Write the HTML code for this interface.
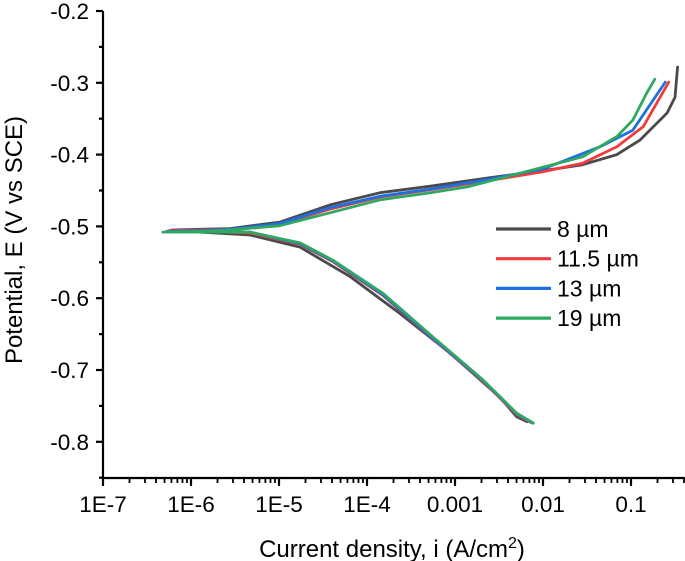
<!DOCTYPE html>
<html><head><meta charset="utf-8"><style>
body{margin:0;background:#fff}
svg{display:block;font-family:"Liberation Sans",Arial,sans-serif}
</style></head><body>
<svg id="chart" width="685" height="561"></svg>
<script>
const xTickLabels=["1E-7","1E-6","1E-5","1E-4","0.001","0.01","0.1"];
const xTickLogs=[-7,-6,-5,-4,-3,-2,-1];
const yTicks=[-0.2,-0.3,-0.4,-0.5,-0.6,-0.7,-0.8];
const seriesNames=["8 µm","11.5 µm","13 µm","19 µm"];
const seriesColors=["#4a4a4a","#f03c3c","#1f6fe0","#2fa862"];
// log10(i), E values per series: cathodic then anodic
const s8Log=[-2.18,-2.30,-2.49,-3.06,-3.63,-4.19,-4.76,-5.33,-5.9,-6.22, -5.9,-5.56,-4.99,-4.42,-3.85,-3.28,-2.6,-1.92,-1.55,-1.16,-0.9,-0.59,-0.5,-0.47];
const s8E=[-0.772,-0.765,-0.738,-0.676,-0.621,-0.570,-0.529,-0.512,-0.508,-0.505, -0.504,-0.503,-0.494,-0.470,-0.453,-0.444,-0.432,-0.421,-0.414,-0.400,-0.380,-0.342,-0.320,-0.278];
const s115Log=[-2.14,-2.30,-2.68,-3.25,-3.82,-4.39,-4.76,-5.33,-5.9,-6.25, -5.9,-5.56,-4.99,-4.42,-3.85,-3.28,-2.6,-2.0,-1.55,-1.16,-0.86,-0.57];
const s115E=[-0.773,-0.762,-0.716,-0.657,-0.596,-0.549,-0.525,-0.509,-0.507,-0.506, -0.505,-0.504,-0.497,-0.476,-0.459,-0.449,-0.436,-0.424,-0.412,-0.389,-0.361,-0.299];
const s13Log=[-2.12,-2.30,-2.68,-3.25,-3.82,-4.39,-4.76,-5.33,-5.9,-6.28, -5.9,-5.56,-4.99,-4.42,-3.85,-3.28,-2.6,-2.0,-1.35,-0.98,-0.61];
const s13E=[-0.774,-0.761,-0.715,-0.656,-0.595,-0.548,-0.524,-0.508,-0.507,-0.507, -0.506,-0.504,-0.496,-0.474,-0.458,-0.448,-0.434,-0.420,-0.389,-0.366,-0.299];
const s19Log=[-2.11,-2.30,-2.68,-3.25,-3.82,-4.39,-4.76,-5.33,-5.9,-6.32, -5.9,-5.56,-4.99,-4.42,-3.85,-3.28,-2.86,-2.11,-1.55,-1.16,-0.98,-0.82,-0.73];
const s19E=[-0.774,-0.760,-0.714,-0.654,-0.593,-0.547,-0.523,-0.508,-0.508,-0.508, -0.507,-0.505,-0.499,-0.481,-0.463,-0.453,-0.445,-0.421,-0.403,-0.375,-0.352,-0.314,-0.295];
const allLogs=[s8Log,s115Log,s13Log,s19Log];
const allE=[s8E,s115E,s13E,s19E];

const NS="http://www.w3.org/2000/svg";
const svg=document.getElementById("chart");
const X0=103,DEC=88,YT=11,YS=718;
function xs(l){return X0+(l+7)*DEC;}
function ys(e){return YT+(-0.2-e)*YS;}
function mk(tag,attrs,parent){const el=document.createElementNS(NS,tag);for(const k in attrs)el.setAttribute(k,attrs[k]);(parent||svg).appendChild(el);return el;}

const axes=mk("g",{});


const yAxis=mk("line",{x1:X0,y1:YT,x2:X0,y2:479,stroke:"#000","stroke-width":2.2},axes);


const xAxis=mk("line",{x1:X0-1,y1:478,x2:685,y2:478,stroke:"#000","stroke-width":2.2},axes);



yTicks.forEach((v,i)=>{
  const y=ys(v);
  mk("line",{x1:X0-7,y1:y,x2:X0,y2:y,stroke:"#000","stroke-width":2.2},axes);
  if(i<yTicks.length-1) mk("line",{x1:X0-4,y1:ys(v-0.05),x2:X0,y2:ys(v-0.05),stroke:"#000","stroke-width":2.2},axes);
  const t=mk("text",{x:X0-14,y:y+8,"text-anchor":"end","font-size":22.5,fill:"#000"},axes);
  t.textContent=v.toFixed(1);
  
  
});
mk("line",{x1:X0-4,y1:ys(-0.85),x2:X0,y2:ys(-0.85),stroke:"#000","stroke-width":2.2},axes);

xTickLogs.forEach((l,i)=>{
  const x=xs(l);
  mk("line",{x1:x,y1:478,x2:x,y2:486,stroke:"#000","stroke-width":2.2},axes);
  for(let m=2;m<=9;m++){const xm=xs(l+Math.log10(m));if(xm<685)mk("line",{x1:xm,y1:478,x2:xm,y2:483,stroke:"#000","stroke-width":1.8},axes);}
  const t=mk("text",{x:x,y:512,"text-anchor":"middle","font-size":22.5,fill:"#000"},axes);
  t.textContent=xTickLabels[i];
  
  
});

const xt=mk("text",{x:392,y:557,"text-anchor":"middle","font-size":24,fill:"#000"});
xt.innerHTML='Current density, i (A/cm<tspan dy="-9" font-size="16">2</tspan><tspan dy="9">)</tspan>';


const yt=mk("text",{x:0,y:0,"text-anchor":"middle","font-size":24,fill:"#000",transform:"translate(22,240) rotate(-90)"});
yt.textContent="Potential, E (V vs SCE)";



allLogs.forEach((lg,si)=>{
  const E=allE[si];
  let d="";
  lg.forEach((l,j)=>{d+=(j?"L":"M")+xs(l).toFixed(1)+","+ys(E[j]).toFixed(1);});
  const p=mk("path",{d:d,fill:"none",stroke:seriesColors[si],"stroke-width":2.8,"stroke-linejoin":"round","stroke-linecap":"round"});
  
  
});

const legend=mk("g",{});


seriesNames.forEach((n,i)=>{
  const y=229+i*29.7;
  const g=mk("g",{},legend);
  
  
  mk("line",{x1:496,y1:y,x2:551,y2:y,stroke:seriesColors[i],"stroke-width":3.2},g);
  const t=mk("text",{x:557,y:y+8,"font-size":23,fill:"#000"},g);
  t.textContent=n;
});
</script>
</body></html>
